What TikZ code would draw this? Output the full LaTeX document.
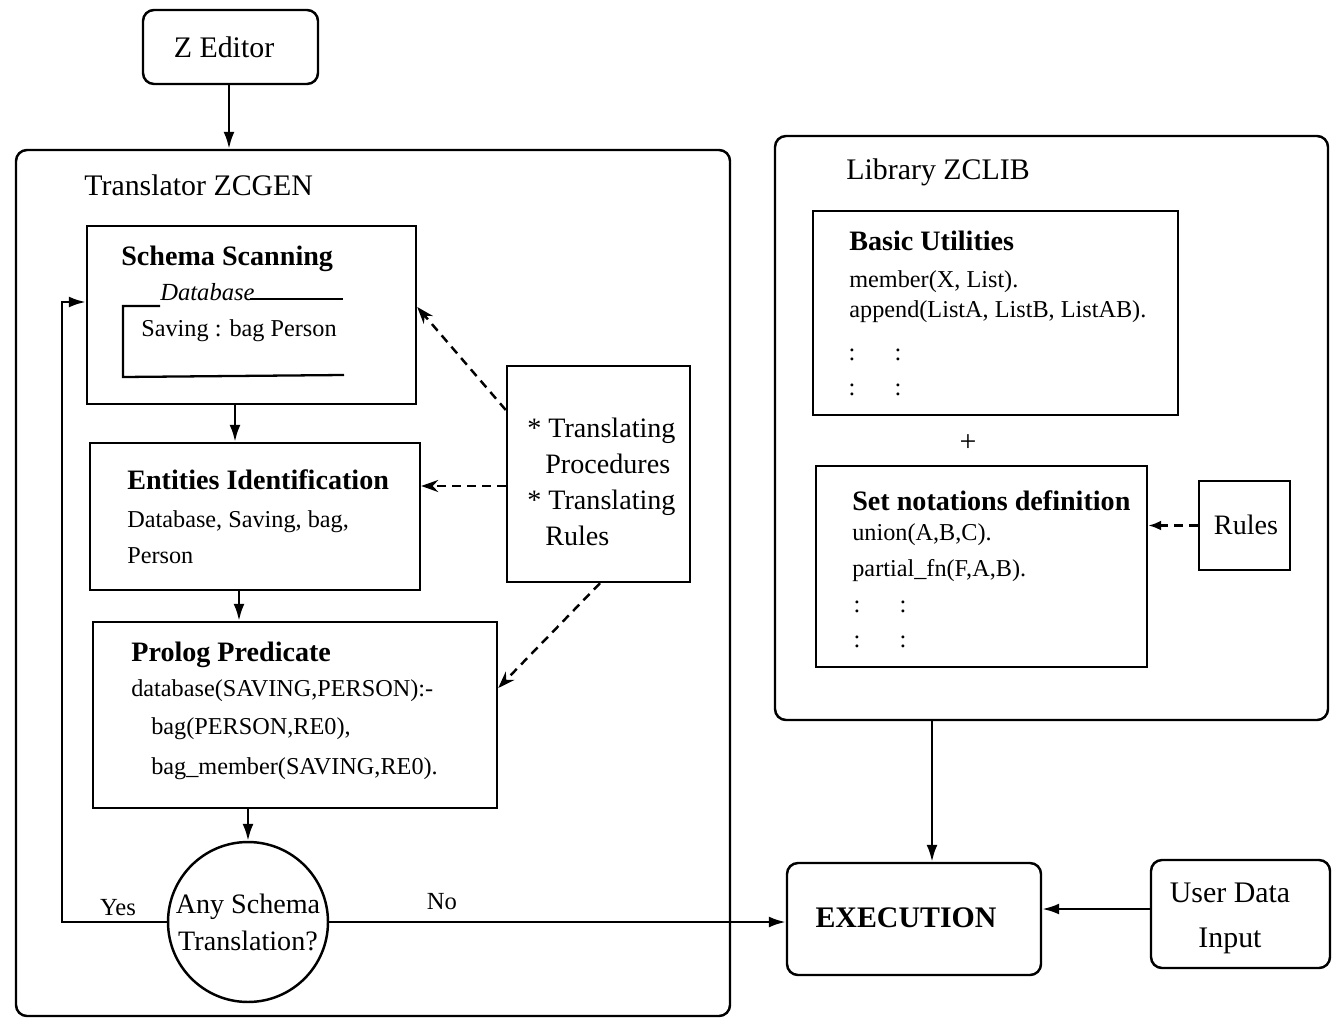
\documentclass[tikz,border=0pt]{standalone}
\usepackage{fontspec}
\setmainfont{Liberation Serif}
\usetikzlibrary{arrows.meta,fit,shapes.geometric}
\begin{document}
\begin{tikzpicture}[x=0.02cm,y=-0.02cm,
 bx/.style={draw,line width=1.4pt,inner sep=0pt},
 rbx/.style={bx,rounded corners=0.22cm},
 arr/.style={line width=1.4pt,-{Latex[length=0.34cm,width=0.22cm]}},
 darr/.style={line width=1.4pt,dash pattern=on 5pt off 3.5pt,-{Stealth[length=0.34cm,width=0.24cm]}},
 tl/.style={font=\fontsize{16}{19}\selectfont\bfseries,anchor=west,inner sep=0pt,text height=11pt,text depth=3pt},
 tx/.style={font=\fontsize{13.8}{16}\selectfont,anchor=west,inner sep=0pt,text height=10pt,text depth=3pt},
 lb/.style={font=\fontsize{17}{20}\selectfont,inner sep=0pt},
 tt/.style={font=\fontsize{16}{19}\selectfont,anchor=west,inner sep=0pt,text height=11pt,text depth=3pt},
 cl/.style={font=\fontsize{14}{16}\selectfont,inner sep=0pt}]
\useasboundingbox[fill=white] (0,0) rectangle (1335,1027);
% Z Editor
\node[rbx,fit={(143,10)(318,84)}] (ze) {};
\node[lb] (zet) at (224,47) {Z Editor};
% Translator
\node[rbx,fit={(16,150)(730,1016)}] (tr) {};
\node[lb,anchor=west] (trt) at (84,185) {Translator ZCGEN};
% Schema scanning
\node[bx,fit={(87,226)(416,404)}] (ss) {};
\node[tl] (sst) at (121,258) {Schema Scanning};
\node[tx,font=\fontsize{14}{16}\selectfont\itshape] (db) at (160,294) {Database};
\draw[line width=1.3pt] (160,306) -- (123,306) -- (123,377) -- (344,375);
\draw[line width=1.3pt] (250,299) -- (343,299);
\node[tx] (sv) at (141,330) {Saving : bag Person};
% Entities
\node[bx,fit={(90,443)(420,590)}] (ei) {};
\node[tl] (eit) at (127,482) {Entities Identification};
\node[tx] (ei1) at (127,521) {Database, Saving, bag,};
\node[tx] (ei2) at (127,557) {Person};
% Prolog
\node[bx,fit={(93,622)(497,808)}] (pp) {};
\node[tl] (ppt) at (131,654) {Prolog Predicate};
\node[tx] (pp1) at (131,690) {database(SAVING,PERSON):-};
\node[tx] (pp2) at (151,728) {bag(PERSON,RE0),};
\node[tx] (pp3) at (151,768) {bag\_member(SAVING,RE0).};
% Decision
\node[draw,circle,line width=1.4pt,minimum size=3.2cm,inner sep=0pt,align=center,font=\fontsize{16}{21}\selectfont] (q) at (248,922) {Any Schema\\Translation?};
% Translating box
\node[bx,fit={(507,366)(690,582)}] (tp) {};
\node[tt] (tp1) at (527,430) {* Translating};
\node[tt] (tp2) at (545,466) {Procedures};
\node[tt] (tp3) at (527,502) {* Translating};
\node[tt] (tp4) at (545,538) {Rules};
% Library
\node[rbx,fit={(775,136)(1328,720)}] (lib) {};
\node[lb,anchor=west] (libt) at (846,172) {Library ZCLIB};
\node[bx,fit={(813,211)(1178,415)}] (bu) {};
\node[tl] (but) at (849,243) {Basic Utilities};
\node[tx] (bu1) at (849,281) {member(X, List).};
\node[tx] (bu2) at (849,311) {append(ListA, ListB, ListAB).};
\node[cl] (c1) at (852,355) {:};
\node[cl] (c2) at (898,355) {:};
\node[cl] (c3) at (852,390) {:};
\node[cl] (c4) at (898,390) {:};
\node[lb] (plus) at (968,443) {+};
\node[bx,fit={(816,466)(1147,667)}] (sn) {};
\node[tl] (snt) at (852,503) {Set notations definition};
\node[tx] (sn1) at (852,534) {union(A,B,C).};
\node[tx] (sn2) at (852,570) {partial\_fn(F,A,B).};
\node[cl] (c5) at (857,607) {:};
\node[cl] (c6) at (903,607) {:};
\node[cl] (c7) at (857,642) {:};
\node[cl] (c8) at (903,642) {:};
\node[bx,fit={(1199,481)(1290,570)}] (ru) {};
\node[lb,font=\fontsize{16}{19}\selectfont] (rut) at (1246,525) {Rules};
% Execution
\node[rbx,fit={(787,863)(1041,975)}] (ex) {};
\node[lb,font=\fontsize{17}{20}\selectfont\bfseries] (ext) at (906,918) {EXECUTION};
\node[rbx,fit={(1151,860)(1330,968)}] (ud) {};
\node[lb,align=center,font=\fontsize{17}{25.5}\selectfont] (udt) at (1230,918) {User Data\\Input};
% Connectors
\draw[arr] (ze.south -| 229,0) -- (tr.north -| 229,0);
\draw[arr] (ss.south -| 235,0) -- (ei.north -| 235,0);
\draw[arr] (ei.south -| 239,0) -- (pp.north -| 239,0);
\draw[arr] (pp.south -| q.north) -- (q.north);
\draw[arr] (q.west) -- (62,922) -- (62,302) -- (ss.west |- 0,302);
\draw[arr] (q.east) -- (ex.west |- q.east);
\node[font=\fontsize{14}{16}\selectfont] (yes) at (118,908) {Yes};
\node[font=\fontsize{14}{16}\selectfont] (no) at (442,902) {No};
\draw[darr] (tp.west |- 0,410) -- (ss.east |- 0,307);
\draw[darr] (tp.west |- 0,486) -- (ei.east |- 0,486);
\draw[darr] (tp.south -| 600,0) -- (pp.east |- 0,688);
\draw[line width=1.4pt,dash pattern=on 5pt off 3.5pt,-{Latex[length=0.26cm,width=0.2cm]}] (ru.west) -- (sn.east |- ru.west);
\draw[arr] (lib.south -| 932,0) -- (ex.north -| 932,0);
\draw[arr] (ud.west |- 0,909) -- (ex.east |- 0,909);
\end{tikzpicture}
\end{document}
